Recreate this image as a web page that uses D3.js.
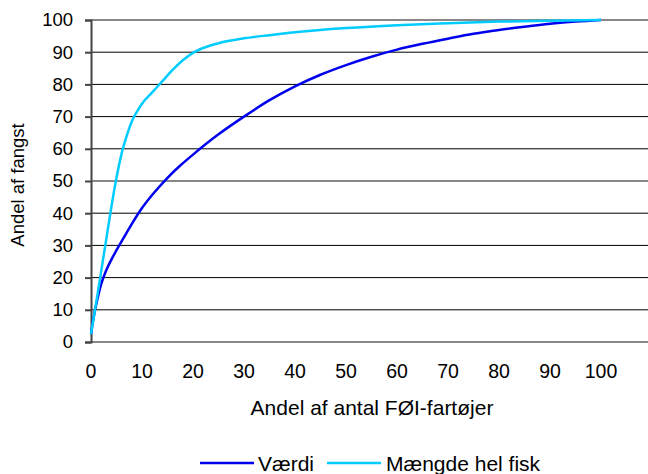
<!DOCTYPE html>
<html><head><meta charset="utf-8">
<script src="https://cdn.jsdelivr.net/npm/d3@7"></script>
<style>body{margin:0;background:#fff}svg{display:block}text{font-family:"Liberation Sans",Arial,sans-serif;fill:#000}</style>
</head><body><svg id="c" width="648" height="474"></svg>
<script>
const xTicks=[0,10,20,30,40,50,60,70,80,90,100];
const yTicks=[0,10,20,30,40,50,60,70,80,90,100];
const vaerdiX=[0,0.5,1,1.5,2,3,4,5,7,10,12.5,15,17.5,20,25,30,35,40,45,50,55,60,65,70,75,80,85,90,95,100];
const vaerdiY=[2.5,7.5,11.5,15,18,22.3,25.6,28.5,34,41.6,46.6,51,54.8,58.2,64.5,70,75.1,79.4,83,86,88.6,90.8,92.6,94.2,95.7,96.9,97.9,98.8,99.5,100];
const maengdeX=[0,1,2,3,4,5,6,7,8,9,10,12,14,16,18,20,22,25,30,35,40,50,60,70,80,90,100];
const maengdeY=[2.5,12,22,32,42,51,58.5,64,68.5,71.5,74,77.5,81,84.5,87.5,89.8,91.3,92.8,94.3,95.3,96.2,97.5,98.4,99,99.5,99.8,100];
const seriesNames=["Værdi","Mængde hel fisk"];
const colors=["#0000EE","#00CCFF"];

const svg=d3.select("#c");
const x=d3.scaleLinear().domain([0,110]).range([91,652]);
const y=d3.scaleLinear().domain([0,100]).range([342,20]);

// gridlines
svg.append("g").selectAll("line").data(yTicks).join("line")
 .attr("x1",x(0)).attr("x2",652).attr("y1",d=>y(d)).attr("y2",d=>y(d))
 .attr("stroke",d=>(d%50===0)?"#888":"#000")
 .attr("stroke-width",d=>(d%50===0)?2:1);

// y axis
const ya=svg.append("g").attr("transform",`translate(${x(0)},0)`)
 .call(d3.axisLeft(y).tickValues(yTicks).tickSize(6).tickPadding(12).tickFormat(d3.format("d")));
ya.select(".domain").attr("stroke","#444").attr("stroke-width",2);
ya.selectAll(".tick line").attr("stroke","#444").attr("stroke-width",2);
ya.selectAll("text").style("font-size","18.5px").attr("fill","#000").attr("font-family",null);

// x tick labels
svg.append("g").selectAll("text").data(xTicks).join("text")
 .attr("x",d=>x(d)).attr("y",378).attr("text-anchor","middle").style("font-size","19.5px").text(d=>d);

// lines
const line=d3.line().x(d=>x(d[0])).y(d=>y(d[1])).curve(d3.curveMonotoneX);
const data=[vaerdiX.map((v,i)=>[v,vaerdiY[i]]),maengdeX.map((v,i)=>[v,maengdeY[i]])];
svg.append("g").selectAll("path").data(data).join("path")
 .attr("d",line).attr("fill","none").attr("stroke",(d,i)=>colors[i]).attr("stroke-width",2.5);

// axis titles
svg.append("text").attr("x",372).attr("y",415).attr("text-anchor","middle").style("font-size","21px").text("Andel af antal FØI-fartøjer");
svg.append("text").attr("transform","translate(24,185) rotate(-90)").attr("text-anchor","middle").style("font-size","18.5px").text("Andel af fangst");

// legend
const lg=[{x1:200,x2:254,tx:258},{x1:327,x2:381,tx:386}];
lg.forEach((l,i)=>{
 svg.append("line").attr("x1",l.x1).attr("x2",l.x2).attr("y1",463).attr("y2",463).attr("stroke",colors[i]).attr("stroke-width",2.5);
 svg.append("text").attr("x",l.tx).attr("y",471).style("font-size","21px").text(seriesNames[i]);
});
</script></body></html>
